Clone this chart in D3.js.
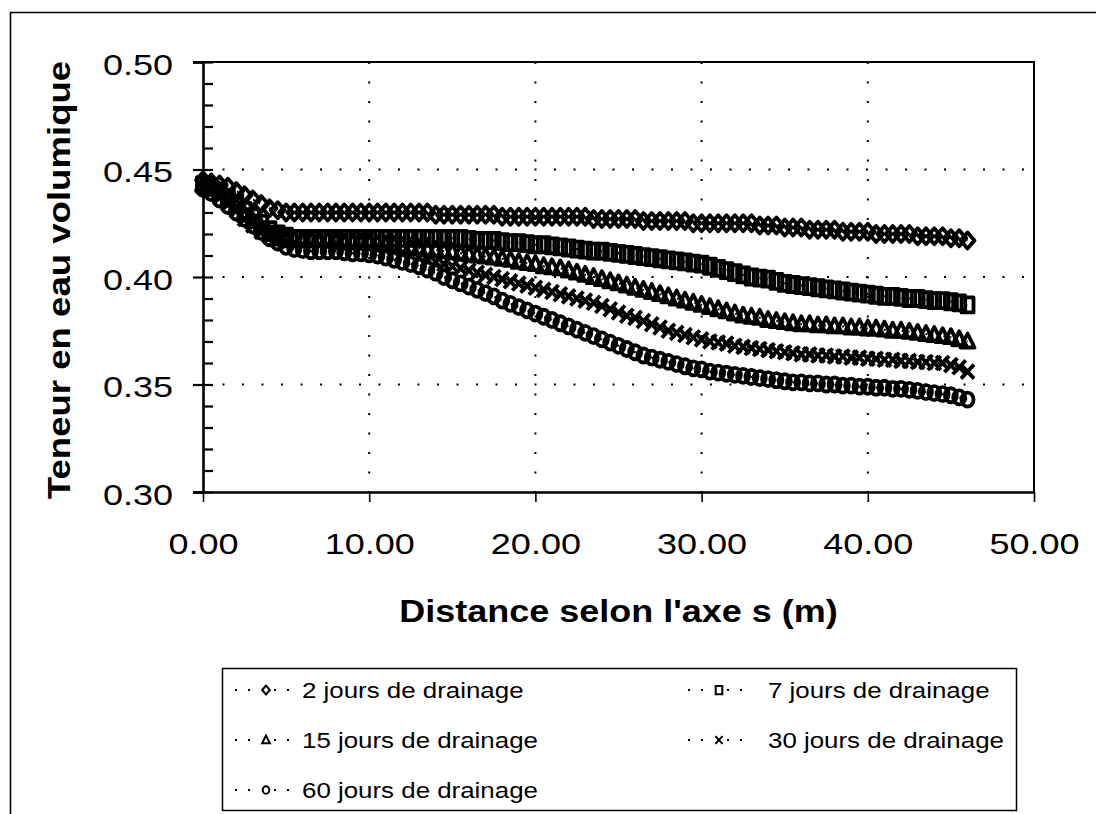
<!DOCTYPE html>
<html><head><meta charset="utf-8">
<script src="https://cdn.jsdelivr.net/npm/d3@7"></script>
<style>
html,body{margin:0;padding:0;background:#fff;}
svg{display:block;font-family:"Liberation Sans",Arial,Helvetica,sans-serif;}
</style>
</head><body>
<svg id="chart" width="1096" height="814"></svg>
<script>
// ---------------- data ----------------
const distances = [
  0,0.5,1,1.5,2,2.5,3,3.5,4,4.5,
  5,5.5,6,6.5,7,7.5,8,8.5,9,9.5,
  10,10.5,11,11.5,12,12.5,13,13.5,14,14.5,
  15,15.5,16,16.5,17,17.5,18,18.5,19,19.5,
  20,20.5,21,21.5,22,22.5,23,23.5,24,24.5,
  25,25.5,26,26.5,27,27.5,28,28.5,29,29.5,
  30,30.5,31,31.5,32,32.5,33,33.5,34,34.5,
  35,35.5,36,36.5,37,37.5,38,38.5,39,39.5,
  40,40.5,41,41.5,42,42.5,43,43.5,44,44.5,
  45,45.5,46];

const jours2 = [
  0.445,0.444,0.443,0.442,0.440,0.438,0.436,0.434,0.432,0.431,
  0.430,0.430,0.430,0.430,0.430,0.430,0.430,0.430,0.430,0.430,
  0.430,0.430,0.430,0.430,0.430,0.430,0.430,0.430,0.429,0.429,
  0.429,0.429,0.429,0.429,0.429,0.429,0.428,0.428,0.428,0.428,
  0.428,0.428,0.428,0.428,0.428,0.428,0.428,0.427,0.427,0.427,
  0.427,0.427,0.427,0.426,0.426,0.426,0.426,0.426,0.426,0.425,
  0.425,0.425,0.425,0.425,0.425,0.425,0.425,0.424,0.424,0.424,
  0.423,0.423,0.423,0.422,0.422,0.422,0.422,0.421,0.421,0.421,
  0.421,0.420,0.420,0.420,0.420,0.420,0.419,0.419,0.419,0.419,
  0.418,0.418,0.417];

const jours7 = [
  0.443,0.442,0.440,0.437,0.434,0.431,0.428,0.425,0.422,0.420,
  0.419,0.418,0.418,0.418,0.418,0.418,0.418,0.418,0.418,0.418,
  0.418,0.418,0.418,0.418,0.418,0.418,0.418,0.418,0.418,0.418,
  0.418,0.418,0.4175,0.417,0.417,0.417,0.4165,0.416,0.416,0.4155,
  0.415,0.415,0.4145,0.414,0.4135,0.413,0.4125,0.412,0.412,0.4115,
  0.411,0.4105,0.410,0.4095,0.409,0.4085,0.408,0.4075,0.407,0.4065,
  0.406,0.405,0.404,0.403,0.402,0.401,0.400,0.3995,0.399,0.398,
  0.397,0.3965,0.396,0.3955,0.395,0.3945,0.394,0.3935,0.393,0.3925,
  0.392,0.3915,0.391,0.391,0.3905,0.390,0.390,0.3895,0.389,0.389,
  0.3885,0.388,0.387];

const jours15 = [
  0.443,0.441,0.439,0.436,0.433,0.429,0.426,0.423,0.420,0.418,
  0.417,0.417,0.417,0.417,0.417,0.417,0.4165,0.416,0.416,0.416,
  0.416,0.4155,0.415,0.415,0.4145,0.414,0.4135,0.413,0.4125,0.412,
  0.4115,0.411,0.4105,0.410,0.4095,0.409,0.4085,0.408,0.407,0.4065,
  0.406,0.405,0.4045,0.404,0.403,0.402,0.401,0.400,0.399,0.398,
  0.397,0.396,0.395,0.394,0.393,0.392,0.391,0.390,0.389,0.388,
  0.387,0.386,0.385,0.384,0.383,0.382,0.3815,0.381,0.380,0.3795,
  0.379,0.3785,0.378,0.378,0.3775,0.3775,0.377,0.377,0.3765,0.3765,
  0.376,0.376,0.3755,0.375,0.375,0.3745,0.374,0.3735,0.373,0.3725,
  0.372,0.371,0.370];

const jours30 = [
  0.442,0.440,0.437,0.434,0.431,0.427,0.424,0.421,0.419,0.417,
  0.416,0.415,0.415,0.415,0.415,0.415,0.4145,0.414,0.414,0.414,
  0.4135,0.413,0.4125,0.412,0.411,0.410,0.409,0.408,0.407,0.406,
  0.405,0.404,0.403,0.402,0.401,0.400,0.399,0.398,0.397,0.396,
  0.395,0.394,0.393,0.392,0.391,0.390,0.389,0.388,0.3865,0.385,
  0.3835,0.382,0.381,0.3795,0.378,0.3765,0.375,0.374,0.373,0.372,
  0.371,0.370,0.3695,0.369,0.368,0.3675,0.367,0.3665,0.366,0.3655,
  0.365,0.3645,0.364,0.364,0.3635,0.3635,0.363,0.363,0.3625,0.3625,
  0.362,0.362,0.3615,0.3615,0.361,0.361,0.3605,0.3605,0.360,0.360,
  0.359,0.358,0.356];

const jours60 = [
  0.441,0.439,0.436,0.433,0.430,0.427,0.424,0.421,0.418,0.416,
  0.414,0.413,0.4125,0.412,0.412,0.412,0.412,0.4115,0.411,0.411,
  0.4105,0.410,0.409,0.408,0.407,0.406,0.405,0.4035,0.402,0.400,
  0.3985,0.397,0.3955,0.394,0.3925,0.391,0.389,0.3875,0.386,0.3845,
  0.383,0.3815,0.380,0.3785,0.377,0.3755,0.374,0.3725,0.371,0.3695,
  0.368,0.3665,0.365,0.3635,0.3625,0.3615,0.3605,0.3595,0.3585,0.3575,
  0.357,0.356,0.3555,0.355,0.3545,0.354,0.3535,0.353,0.3525,0.352,
  0.3515,0.351,0.351,0.3505,0.3505,0.350,0.350,0.3495,0.3495,0.349,
  0.349,0.3485,0.3485,0.348,0.348,0.3475,0.347,0.3465,0.346,0.3455,
  0.345,0.344,0.343];

const seriesLabels = ["2 jours de drainage","7 jours de drainage","15 jours de drainage","30 jours de drainage","60 jours de drainage"];
const seriesMarkers = ["diamond","square","triangle","cross","circle"];
const xTickValues = [0,10,20,30,40,50];
const yTickValues = [0.30,0.35,0.40,0.45,0.50];
const yMinorValues = [0.31,0.32,0.33,0.34,0.36,0.37,0.38,0.39,0.41,0.42,0.43,0.44,0.46,0.47,0.48,0.49];
const xGridValues = [10,20,30,40];
const yGridValues = [0.35,0.40,0.45];
const xTitle = "Distance selon l'axe s (m)";
const yTitle = "Teneur en eau volumique";

// ---------------- drawing ----------------
const svg = d3.select("#chart");
const L = 203, R = 1034, T = 62, B = 492;
const x = d3.scaleLinear().domain([0, 50]).range([L, R]);
const y = d3.scaleLinear().domain([0.30, 0.50]).range([B, T]);

function stretch(sel, k) {
  sel.each(function () {
    const len = this.getComputedTextLength();
    d3.select(this).attr("textLength", len * k).attr("lengthAdjust", "spacingAndGlyphs");
  });
}

// outer frame (only left & top visible)
svg.append("path").attr("d", "M10.5,814 L10.5,12.5 L1096,12.5")
  .attr("fill", "none").attr("stroke", "#000").attr("stroke-width", 1.6);

// grid
const grid = svg.append("g");
grid.selectAll("line.h").data(yGridValues).join("line")
  .attr("x1", L).attr("x2", R).attr("y1", d => y(d)).attr("y2", d => y(d))
  .attr("stroke", "#000").attr("stroke-width", 2).attr("stroke-dasharray", "2,17.5");
grid.selectAll("line.v").data(xGridValues).join("line")
  .attr("x1", d => x(d)).attr("x2", d => x(d)).attr("y1", T).attr("y2", B)
  .attr("stroke", "#000").attr("stroke-width", 2).attr("stroke-dasharray", "2,17.5");

// frame top/right
svg.append("path").attr("d", `M${L - 10},${T} L${R},${T} L${R},${B}`)
  .attr("fill", "none").attr("stroke", "#000").attr("stroke-width", 2);

// axes
const yAxisG = svg.append("g").attr("transform", `translate(${L},0)`)
  .call(d3.axisLeft(y).tickValues(yTickValues).tickSize(10).tickPadding(20).tickFormat(d3.format(".2f")));
yAxisG.select(".domain").attr("stroke-width", 2.6);
yAxisG.selectAll(".tick line").attr("stroke-width", 2.2);
yAxisG.selectAll(".tick text").attr("font-size", 30).attr("font-family", "Liberation Sans, Arial, sans-serif")
  .attr("dy", "0.40em");
stretch(yAxisG.selectAll(".tick text"), 1.2);

const yInner = svg.append("g").attr("transform", `translate(${L},0)`)
  .call(d3.axisRight(y).tickValues(yMinorValues.concat(yTickValues)).tickSize(10).tickFormat(""));
yInner.select(".domain").remove();
yInner.selectAll(".tick line").attr("stroke-width", 2.2);

const xAxisG = svg.append("g").attr("transform", `translate(0,${B})`)
  .call(d3.axisBottom(x).tickValues(xTickValues).tickSize(10).tickPadding(31).tickFormat(d3.format(".2f")));
xAxisG.select(".domain").attr("stroke-width", 2.6).attr("d", `M${L - 10},0.5H${R}`);
xAxisG.selectAll(".tick line").attr("stroke-width", 1.6);
xAxisG.selectAll(".tick text").attr("font-size", 30).attr("font-family", "Liberation Sans, Arial, sans-serif");
stretch(xAxisG.selectAll(".tick text"), 1.2);

// titles
const xt = svg.append("text").attr("x", (L + R) / 2).attr("y", 622).attr("text-anchor", "middle")
  .attr("font-size", 31).attr("font-weight", "bold").text(xTitle);
stretch(xt, 1.16);
const yt = svg.append("text").attr("transform", `translate(70,${(T + B) / 2 + 3}) rotate(-90)`)
  .attr("text-anchor", "middle").attr("font-size", 31).attr("font-weight", "bold").text(yTitle);
stretch(yt, 1.18);

// marker shapes
function markerPath(type, s) {
  switch (type) {
    case "diamond": return `M0,${-8*s} L${7*s},0 L0,${8*s} L${-7*s},0 Z`;
    case "square": return `M${-6*s},${-7.5*s} h${12*s} v${15*s} h${-12*s} Z`;
    case "triangle": return `M0,${-8*s} L${7*s},${6*s} L${-7*s},${6*s} Z`;
    case "cross": return `M${-6.5*s},${-7*s} L${6.5*s},${7*s} M${6.5*s},${-7*s} L${-6.5*s},${7*s}`;
    case "circle": return `M${-6*s},0 a${6*s},${7*s} 0 1,0 ${12*s},0 a${6*s},${7*s} 0 1,0 ${-12*s},0 Z`;
  }
}

const allSeries = [jours2, jours7, jours15, jours30, jours60];
const plot = svg.append("g");
const line = d3.line().x((d, i) => x(distances[i])).y(d => y(d));
allSeries.forEach((vals, k) => {
  const g = plot.append("g");
  g.append("path").attr("d", line(vals)).attr("fill", "none").attr("stroke", "#000")
    .attr("stroke-width", 2).attr("stroke-dasharray", "2,4");
  g.selectAll("path.m").data(vals).join("path").attr("class", "m")
    .attr("transform", (d, i) => `translate(${x(distances[i])},${y(d)})`)
    .attr("d", markerPath(seriesMarkers[k], 1))
    .attr("fill", "none").attr("stroke", "#000").attr("stroke-width", 3.8)
    .attr("stroke-linejoin", "round");
});

// legend
const lg = svg.append("g");
lg.append("rect").attr("x", 222.5).attr("y", 668.5).attr("width", 794).attr("height", 142)
  .attr("fill", "#fff").attr("stroke", "#000").attr("stroke-width", 1.5);
const legendPos = [[267, 690], [720, 690], [267, 740], [720, 740], [267, 790]];
const legendTextX = [302, 768, 302, 768, 302];
seriesLabels.forEach((lab, k) => {
  const [mx, my] = legendPos[k];
  lg.append("line").attr("x1", mx - 32).attr("x2", mx + 30).attr("y1", my).attr("y2", my)
    .attr("stroke", "#000").attr("stroke-width", 2).attr("stroke-dasharray", "2,11");
  lg.append("rect").attr("x", mx - 8).attr("y", my - 8).attr("width", 14).attr("height", 16).attr("fill", "#fff");
  lg.append("path").attr("transform", `translate(${mx - 1},${my})`).attr("d", markerPath(seriesMarkers[k], 0.55))
    .attr("fill", "none").attr("stroke", "#000").attr("stroke-width", 2);
  const t = lg.append("text").attr("x", legendTextX[k]).attr("y", my + 8).attr("font-size", 22.5).text(lab);
  stretch(t, 1.15);
});
</script>
</body></html>
